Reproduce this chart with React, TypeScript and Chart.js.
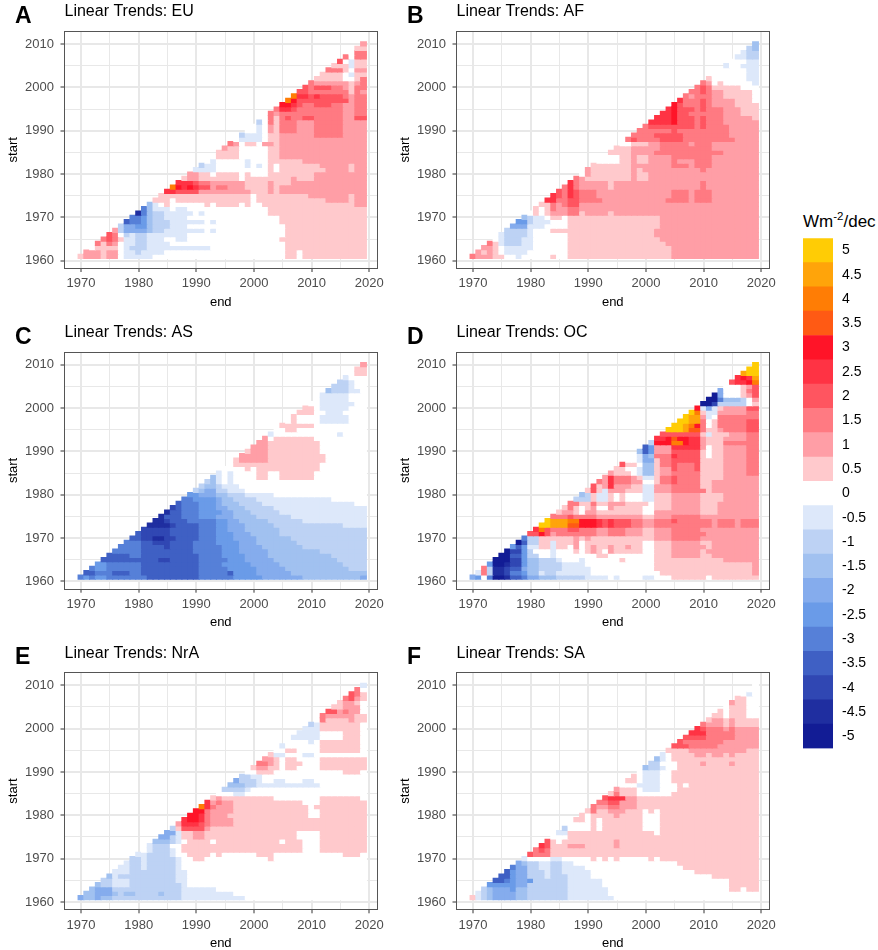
import React, { useEffect, useRef } from "react";
import { Chart, registerables } from "chart.js";

Chart.register(...registerables);

// Each row = one start year (1961..2010). Tokens are "endYear:bin", a run lasting until the next token.
// bin * 0.5 = trend in Wm-2/dec.
const firstStart = 1961;
const lastEnd = 2019;

const rowsEU = [
  "70:1 71:2 74:1 75:2 77:0 78:-1 83:0 06:1 08:0 09:1",
  "71:2 74:1 75:2 77:0 78:-1 80:-2 81:-1 85:0 06:1 08:0 09:1",
  "73:1 77:0 78:-1 79:-2 82:-1 90:-1 93:0 06:1",
  "73:3 74:1 75:3 76:2 77:0 78:-1 80:-2 82:-1 86:0 06:1",
  "74:3 75:4 76:3 77:1 78:-1 80:-2 82:-1 85:0 87:-1 89:0 05:1",
  "75:4 76:3 77:0 78:-2 79:-1 80:-2 82:-1 89:0 06:1",
  "76:2 77:-2 78:-4 82:-3 83:-2 85:-1 92:0 93:-1 94:0 06:1",
  "77:-2 78:-4 80:-5 82:-3 83:-2 86:-1 89:0 06:1",
  "78:-7 79:-6 81:-5 82:-3 83:-2 86:-1 92:0 93:-1 94:0 05:1",
  "79:-6 81:-5 82:-3 83:-2 85:-1 89:0 05:1",
  "80:-9 81:-6 82:-3 83:-2 85:-1 90:0 91:-1 92:0 03:1",
  "81:-6 82:-3 83:-1 86:0 87:-1 89:0 03:1",
  "82:-3 83:-1 84:0 85:1 86:0 92:1 93:0 94:1 98:0 99:1 00:0 02:1 18:2",
  "83:1 86:0 87:1 00:0 01:1 13:2 17:1 18:2",
  "84:1 00:0 01:1 10:2 17:1 18:2",
  "85:5 87:4 91:2 00:1 03:2 04:1 05:2",
  "86:8 87:6 88:5 89:6 90:5 91:4 93:2 94:3 96:2 99:1 03:2 04:1 05:2",
  "87:5 90:4 91:3 93:2 99:1 03:2 04:1 07:2",
  "88:1 89:2 91:1 98:0 99:1 07:2 08:1 11:2",
  "89:2 91:1 93:0 94:1 98:0 99:1 00:0 03:1 11:2",
  "90:-1 94:0 03:1 04:0 05:1 13:2 17:1 18:2",
  "91:-2 92:-1 94:0 99:-1 00:0 01:-1 02:0 03:1 04:0 05:1 12:2 17:1 18:2",
  "92:0 93:-1 94:0 99:-1 00:0 03:1 09:2",
  "93:0 94:1 98:0 03:1 05:2",
  "94:1 98:0 03:1 05:2",
  "95:2 96:1 98:0 03:1 05:2",
  "96:3 97:2 98:0 99:1 01:0 02:2 04:1 05:2",
  "97:0 98:-1 02:0 03:1 05:2",
  "98:-2 99:-1 02:0 03:1 05:2 11:3 16:2",
  "99:0 01:-1 02:0 03:2 04:1 05:3 08:2 11:3 16:2",
  "00:0 01:-1 02:0 03:2 04:1 05:3 08:2 11:3 16:2",
  "01:-2 02:0 03:3 04:1 05:3 08:2 11:3 16:2",
  "02:0 03:3 04:1 05:3 06:4 07:3 09:4 11:3 16:2 18:4",
  "03:3 04:2 05:3 16:2 18:3",
  "04:3 05:5 07:4 08:3 16:2 18:3",
  "05:6 07:5 08:4 09:3 11:4 14:3 16:2 18:3",
  "06:8 07:6 08:4 17:2 18:3",
  "07:8 08:5 10:4 11:5 12:4 16:3 17:2 18:3",
  "08:4 10:3 17:1 18:3 19:2",
  "09:4 10:3 11:4 14:3 16:2 17:1 18:3",
  "10:3 11:2 17:1 18:2 19:3",
  "11:1 16:0 18:1 19:3",
  "12:1 16:0 17:-1 18:1",
  "13:3 16:1 17:0 18:2",
  "14:1 17:-1 18:1",
  "15:4 16:0 17:-1 18:1",
  "16:3 17:0 18:3",
  "17:0 18:3",
  "18:1",
  "19:2",
];

const rowsAF = [
  "70:3 71:2 74:1 76:0 78:-1 79:0 84:1 85:0 87:1 05:2",
  "71:2 72:1 73:2 74:1 75:0 76:-1 80:0 87:1 05:2",
  "72:2 74:1 75:0 76:-1 81:0 87:1 05:2",
  "73:3 74:1 75:-1 76:-2 79:-1 81:0 87:1 04:2",
  "74:0 75:-1 76:-2 79:-1 81:0 87:1 03:2",
  "75:-1 76:-2 80:-1 81:0 87:1 02:2",
  "76:-2 80:-1 81:0 84:1 02:2",
  "77:-4 80:-1 83:0 87:1 03:2",
  "78:-5 80:-2 81:-1 84:0 87:1 03:2",
  "79:-3 80:-2 81:-1 83:0 84:1 86:0 87:1 03:2",
  "80:0 81:1 82:0 83:1 84:2 87:3 89:1 90:2 94:1 95:2",
  "81:1 82:0 83:1 84:3 85:2 87:3 89:2",
  "82:1 84:3 85:2 86:3 87:4 89:2",
  "83:5 85:3 87:4 89:3 93:2 04:3 08:2 09:3 12:2",
  "84:5 85:4 86:3 87:5 88:4 89:3 92:2 05:3 08:2 09:3 12:2",
  "85:4 86:3 87:5 88:4 89:3 92:2 05:3 08:2 09:3 12:2",
  "86:3 87:5 88:3 89:2 94:1 95:2 10:3 11:2",
  "87:5 88:3 89:2 94:1 95:2 10:3 11:2",
  "88:3 89:2 90:1 98:2 99:1 01:2",
  "89:0 90:2 91:1 98:2 99:1 01:2",
  "90:2 91:1 98:2 99:1 00:2 10:3 11:2",
  "91:1 98:2 05:3 08:2 09:3 12:2",
  "92:0 96:1 98:2 99:1 01:2 05:3 06:2 09:3 12:2",
  "93:0 96:1 98:2 99:1 01:2 05:3 12:2",
  "94:1 98:2 02:3 14:2",
  "95:1 98:2 03:3 12:2",
  "96:0 98:1 01:2 03:3 08:2 09:3 12:2",
  "97:3 98:4 99:3 03:4 07:3 16:2",
  "98:3 02:4 07:3 15:2",
  "99:3 05:4 06:3 15:2",
  "00:3 01:4 09:3 10:4 11:3 15:2",
  "01:5 05:6 06:4 09:3 10:4 11:3 14:2",
  "02:5 05:6 06:4 09:3 10:4 11:3 14:2 19:1",
  "03:5 05:6 06:4 08:3 14:2 17:1",
  "04:5 05:6 06:4 09:3 10:4 11:3 14:2 17:1",
  "05:6 06:4 07:3 10:4 11:3 12:2 16:1",
  "06:5 07:3 10:4 11:3 12:2 16:1 19:0",
  "07:3 08:2 09:3 12:2 14:1 19:0",
  "08:3 10:4 11:3 12:2 14:1 19:0",
  "09:3 10:4 11:3 12:1 17:0",
  "10:3 11:2 12:0 13:1 14:0 19:-1",
  "11:1 12:0 18:-1",
  "12:0 18:-1",
  "13:0 18:-1",
  "14:-1 15:0 17:-1",
  "15:0 18:-1",
  "16:-1 18:-2",
  "17:-1 18:-2",
  "18:-2 19:-3",
  "19:-3",
];

const rowsAS = [
  "70:-6 71:-5 72:-6 73:-5 75:-6 82:-7 91:-6 97:-5 02:-4 09:-3 19:-4",
  "71:-7 73:-6 76:-7 79:-6 81:-7 91:-6 96:-7 97:-5 01:-4 07:-3",
  "72:-6 73:-5 75:-6 81:-7 91:-6 96:-5 01:-4 06:-3 17:-2",
  "73:-5 75:-6 81:-7 91:-6 95:-5 00:-4 05:-3 16:-2",
  "74:-7 84:-8 86:-7 91:-6 96:-5 99:-4 04:-3 15:-2",
  "75:-7 79:-6 81:-7 91:-6 95:-5 99:-4 03:-3 14:-2",
  "76:-6 81:-7 90:-6 95:-5 98:-4 03:-3 12:-2",
  "77:-6 81:-7 85:-8 86:-7 90:-6 95:-5 98:-4 02:-3 09:-2",
  "78:-6 81:-7 83:-8 86:-7 90:-6 94:-5 98:-4 01:-3 08:-2",
  "79:-7 81:-8 83:-9 85:-8 87:-7 91:-6 94:-5 97:-4 01:-3 07:-2",
  "80:-7 81:-8 86:-7 91:-6 94:-5 97:-4 00:-3 05:-2",
  "81:-8 82:-8 86:-7 91:-6 94:-5 96:-4 99:-3 05:-2",
  "82:-9 86:-8 87:-7 91:-6 94:-5 96:-4 99:-3 04:-2 16:-1",
  "83:-9 85:-8 86:-7 89:-6 94:-5 96:-4 98:-3 03:-2 09:-1",
  "84:-9 85:-7 88:-6 91:-5 94:-4 97:-3 01:-2 07:-1",
  "85:-9 86:-7 88:-6 91:-5 95:-4 97:-3 00:-2 05:-1",
  "86:-8 87:-7 88:-6 91:-5 94:-4 96:-3 99:-2 04:-1",
  "87:-7 88:-6 91:-5 94:-4 95:-3 98:-2 02:-1 18:0",
  "88:-6 90:-5 94:-4 95:-3 97:-2 01:-1 14:0",
  "89:-5 91:-4 94:-3 96:-2 99:-1 04:0",
  "90:-2 91:-3 92:-4 94:-2 96:-1 99:0",
  "91:-2 92:-3 94:-2 95:-1 98:0",
  "92:-2 93:-3 94:-1 95:0 96:-1 97:0",
  "93:-3 94:-1 95:0 96:-1 97:0 01:1 03:0 05:1 11:0",
  "94:-1 95:0 96:-1 97:0 01:1 03:0 05:1 11:0",
  "95:0 99:1 00:0 01:1 12:0",
  "96:0 97:1 12:0",
  "97:1 98:2 03:1 13:0",
  "98:2 03:1 13:0",
  "99:1 00:2 03:1 12:0",
  "00:2 03:1 12:0",
  "01:2 03:1 12:0",
  "02:2 03:0 04:1 11:0",
  "03:-1 04:0 15:-1 16:0",
  "04:0 06:1 08:0",
  "05:1 11:0",
  "06:0 07:1 08:0 12:-1 17:0",
  "07:1 08:0 12:-1 17:0",
  "08:1 11:0 13:-1 16:0",
  "09:1 11:0 12:-1 17:0",
  "10:0 12:-1 18:0",
  "11:0 12:-1 17:0",
  "12:-1 17:0",
  "13:-3 14:-2 17:-1 19:0",
  "14:-2 17:-1 18:0",
  "15:-2 17:-1 18:0",
  "16:-1 17:0",
  "17:0 18:1",
  "18:1",
  "19:2",
];

const rowsOC = [
  "70:-4 71:-5 72:0 73:-6 74:-10 76:-9 77:-7 79:-6 80:-4 82:-3 85:-2 90:-1 94:0 95:-1 96:0 00:-1 02:0 05:1 11:0 12:1",
  "71:-1 72:3 73:-2 74:-9 76:-8 77:-6 79:-5 80:-3 82:-1 83:-2 85:-1 91:0 03:1 19:2",
  "72:3 73:-2 74:-9 76:-8 77:-7 79:-4 80:-3 82:-2 86:-1 91:0 02:1 19:2",
  "73:-5 74:-10 76:-9 77:-8 79:-5 80:-3 82:-2 86:-1 90:0 02:1 19:2",
  "74:-10 77:-8 79:-5 80:-3 82:-2 85:-1 86:0 89:-1 90:0 96:1 97:0 02:1 14:2",
  "75:-10 77:-7 79:-5 80:-2 82:0 84:-1 85:0 92:1 94:0 02:1 05:2 10:1 12:2",
  "76:-10 77:-8 79:-5 80:-2 81:0 84:-1 85:0 88:1 89:0 90:1 91:2 92:1 93:0 94:2 95:1 00:0 02:1 05:2 10:1 11:2",
  "77:-5 78:-7 79:-5 80:-1 82:1 84:-1 85:1 87:0 88:2 89:0 90:1 91:2 92:1 94:2 95:1 97:2 98:1 00:0 02:1 05:2 11:1 12:2",
  "78:-10 79:-7 80:-2 82:1 84:-1 85:1 88:2 89:0 90:1 00:0 02:1 05:2 10:1 12:2",
  "79:-6 80:-2 82:1 88:2 89:1 90:2 91:1 02:2 05:3 10:2",
  "80:4 82:6 83:4 84:2 85:3 92:2 94:3 97:2 00:1 02:2 05:3 11:2",
  "81:5 82:8 83:4 84:3 87:4 89:3 92:2 94:3 97:2 00:1 02:2 05:3 10:2",
  "82:10 84:9 87:7 89:6 92:5 93:4 94:5 95:4 98:3 00:2 02:3 12:2 13:3 16:2 17:3",
  "83:10 84:9 87:8 89:6 92:5 93:4 94:5 95:4 98:3 00:2 02:3 05:4 06:3 12:2 13:3 16:2 17:3",
  "84:3 87:4 88:3 92:2 00:1 02:2 05:3 10:2",
  "85:1 86:2 88:1 89:0 90:2 92:1 00:0 02:2 10:1 13:2",
  "86:1 87:3 88:1 89:0 90:1 91:2 92:0 94:2 95:1 00:0 02:1 05:2 10:1 13:2",
  "87:3 89:1 91:3 92:1 94:2 97:1 01:0 02:1 05:2 10:1 13:2",
  "88:-2 91:1 92:-1 94:1 95:0 96:1 97:0 00:-1 02:1 05:2 10:1 14:2",
  "89:-3 90:-2 91:1 92:-1 94:1 95:0 96:1 97:0 00:-1 02:1 05:2 10:1 14:2",
  "90:1 91:4 92:1 93:-1 94:2 97:1 00:-1 02:2 05:3 11:1 12:2",
  "91:4 92:1 93:2 94:5 95:2 98:1 00:-1 02:2 05:3 10:1 12:2",
  "92:3 93:2 94:5 95:3 98:2 00:0 02:1 03:3 05:4 06:3 10:1 12:2",
  "93:2 94:5 95:3 98:2 99:1 00:-1 02:1 03:3 05:4 06:3 10:1 14:2",
  "94:2 95:1 98:0 99:-1 00:-3 02:1 03:2 05:3 10:1 14:2 18:3",
  "95:1 97:0 99:-1 00:-3 02:1 03:2 05:4 06:3 09:4 10:1 14:2 18:3",
  "96:4 97:1 99:0 00:-3 02:1 03:3 05:4 06:3 09:4 10:1 14:2 18:3",
  "97:0 99:-1 00:-4 02:1 03:3 05:4 10:1 14:2 18:3",
  "98:0 99:-1 00:-4 01:-3 02:3 05:5 06:4 10:1 11:0 12:1 14:2 18:3",
  "99:-3 00:-7 01:-5 02:2 05:4 10:1 11:0 12:1 14:2 18:3",
  "00:-7 01:-5 02:2 05:5 10:2 11:0 12:1 14:2 18:3",
  "01:-2 02:6 05:8 07:6 08:5 10:2 11:1 14:3",
  "02:5 04:6 05:7 06:6 08:5 10:2 11:1 14:2 18:3",
  "03:4 10:1 11:-1 12:1 15:2 18:3",
  "04:10 07:9 08:7 10:3 11:1 13:2 14:3 18:4",
  "05:10 07:9 08:8 09:6 10:3 11:0 12:1 13:3 18:4",
  "06:10 08:9 10:3 11:0 12:1 13:3 18:4",
  "07:10 08:9 10:2 11:-1 12:0 13:3 18:3",
  "08:10 09:8 10:1 11:-1 13:2 18:3",
  "09:6 10:-1 11:-4 12:-1 13:1 14:2 18:4",
  "10:-10 12:-8 13:-2 18:0 19:1",
  "11:-10 13:-6 14:-3 17:-2 18:0 19:2",
  "12:-10 13:-4 14:0 17:1 18:2 19:4",
  "13:-4 14:0 17:1 18:3 19:4",
  "14:0 17:1 18:2 19:4",
  "15:4 16:5 18:6 19:8",
  "16:5 17:6 18:5 19:9",
  "17:9 18:10",
  "18:10",
  "19:10",
];

const rowsNrA = [
  "70:-4 71:-3 73:-4 74:-3 76:-2 88:-1 99:0",
  "71:-3 73:-4 76:-3 77:-2 78:-3 80:-2 84:-3 85:-2 88:-1 97:0",
  "72:-3 73:-4 76:-2 88:-1 94:0",
  "73:-3 74:-2 76:-1 79:-2 88:-1 89:0",
  "74:-2 76:-1 79:-2 87:-1 89:0",
  "75:-3 76:-1 77:-2 87:-1 89:0",
  "76:-1 79:-2 87:-1 89:0",
  "77:-1 79:-2 81:-1 82:-2 87:-1 88:0",
  "78:-1 79:-2 81:-1 82:-2 87:-1 88:0",
  "79:-2 81:-1 82:-2 87:-1 88:0 90:1 92:0 03:1 04:0",
  "80:-1 82:-2 86:-1 87:0 89:1 93:0 94:1 95:0 01:1 04:0 16:1 19:0",
  "81:0 82:-1 83:-2 86:-1 87:0 88:1 09:0 12:1",
  "82:-1 83:-2 86:0 88:1 09:0 12:1",
  "83:-3 86:-2 87:-1 88:0 89:1 93:0 94:1 05:0 06:1 09:0 12:1",
  "84:-4 86:-2 87:-1 88:1 90:2 92:1 08:0 12:1",
  "85:-4 87:-1 88:1 90:2 92:1 08:0 12:1",
  "86:-2 87:1 88:4 92:2 93:1",
  "87:2 88:5 91:4 92:3 93:2 97:1",
  "88:5 89:6 91:5 92:3 93:2 97:1",
  "89:6 91:5 92:3 93:2 96:1 10:0 12:1",
  "90:6 92:3 93:2 97:1 10:0 12:1",
  "91:8 92:5 93:3 94:2 97:1 10:0 11:1",
  "92:5 93:2 94:3 95:2 97:1 09:0 12:1",
  "93:1 94:2 95:1 04:0 12:1 19:0",
  "94:0 97:-1 99:0",
  "95:-2 99:-1 00:0",
  "96:-3 99:-2 01:-1 12:0",
  "97:-4 98:-2 01:-1 02:0 04:-1 06:0 09:-1 11:0",
  "98:-2 00:-1 02:0",
  "99:0 01:1 04:0 16:1 19:0",
  "00:1 01:2 03:1 05:0 06:1 08:0 12:1",
  "01:3 03:2 04:1 05:0 06:1 09:0 12:1",
  "02:2 04:1 05:0 06:1 08:0 12:1",
  "03:1 04:-1 06:0 09:-1 11:0",
  "04:0 06:1 08:0 12:1 19:0",
  "05:-1 06:0 12:1 19:0",
  "06:0 10:-1 11:0 12:1 19:0",
  "07:-1 12:0 16:1 19:0",
  "08:-1 12:0 16:1 19:0",
  "09:-1 12:1 19:0",
  "10:-2 11:-1 12:1 19:0",
  "11:0 12:3 13:1 17:2 18:1",
  "12:3 13:2 18:1",
  "13:4 15:2 16:3 17:2 19:0",
  "14:1 16:2 19:0",
  "15:1 16:2 18:1 19:0",
  "16:3 17:4 18:2 19:1",
  "17:4 18:3 19:1",
  "18:3 19:0",
  "19:-1",
];

const rowsSA = [
  "70:1 71:-1 72:-2 73:-3 74:-4 78:-3 80:-2 87:-1 95:0",
  "71:-1 72:-2 73:-3 74:-4 78:-3 80:-2 87:-1 94:0",
  "72:-2 73:-3 74:-4 77:-5 78:-3 80:-2 87:-1 94:0 15:1 17:0 18:1",
  "73:-5 78:-4 80:-2 87:-1 93:0 15:1",
  "74:-7 76:-6 77:-5 78:-4 80:-5 81:-2 87:-1 93:0 15:1",
  "75:-7 77:-5 78:-4 80:-2 83:-1 84:-2 87:-1 91:0 12:1",
  "76:-7 77:-5 78:-4 80:-2 83:-1 84:-2 86:-1 91:0 09:1",
  "77:-6 78:-4 80:-2 82:-1 84:-2 86:-1 90:0 07:1",
  "78:-4 79:-3 80:-2 82:-1 84:-2 86:-1 88:0 06:1",
  "79:-1 80:0 84:-1 86:0 91:1 92:0 93:1 94:0 95:1 96:0 01:1 02:0 03:1",
  "80:4 81:3 84:1",
  "81:3 82:4 83:3 84:1",
  "82:5 83:4 84:1 87:2 90:1 95:2 96:1",
  "83:4 84:1 85:0 86:1 95:2 96:1",
  "84:0 87:1",
  "85:-1 87:1 02:0 03:1",
  "86:-2 87:0 91:1 92:0 93:1 00:0 03:1",
  "87:0 91:1 92:0 93:1 00:0 03:1",
  "88:1 90:0 91:1 92:0 93:1 00:0 03:1",
  "89:1 90:0 91:1 95:2 96:1 00:0 03:1",
  "90:1 91:3 92:1 94:2 97:1 00:0 01:1 02:0 03:1",
  "91:3 92:2 94:3 96:2 99:1",
  "92:3 94:4 96:2 99:1",
  "93:4 94:5 97:2 99:1",
  "94:1 95:3 96:1 99:0 05:1",
  "95:2 96:1 99:0 00:-1 03:0 06:1",
  "96:0 99:-1 03:0 06:1 07:0 08:1",
  "97:1 99:0 00:-1 03:0 05:1",
  "98:1 99:0 00:-1 03:0 05:1",
  "99:0 00:-1 03:0 05:1",
  "00:-3 01:-2 03:-1 04:0 06:1",
  "01:-2 03:0 06:1 10:2 11:1 15:2 16:1",
  "02:-3 03:-1 04:0 05:1",
  "03:-1 04:0 05:1 09:2 11:1 12:2 14:1 15:2 16:1",
  "04:1 08:2 18:1",
  "05:4 08:3 13:2",
  "06:4 07:3 14:2",
  "07:4 11:3 16:2",
  "08:5 11:3 16:2",
  "09:5 10:4 11:3 14:2 15:3 16:2",
  "10:3 11:2 14:1 15:2 16:1",
  "11:1 12:2 14:1 15:2 16:1",
  "12:1 14:0 15:1 18:0",
  "13:1 14:0 15:1 18:0",
  "14:0 15:1 18:0",
  "15:2 16:1 18:0",
  "16:1 18:0",
  "17:0 18:-1 19:0",
  "18:0",
  "19:0",
];

const panelLetters = ["A", "B", "C", "D", "E", "F"];
const panelNames = ["EU", "AF", "AS", "OC", "NrA", "SA"];
const panelRows = [rowsEU, rowsAF, rowsAS, rowsOC, rowsNrA, rowsSA];

const legendLabels = ["5", "4.5", "4", "3.5", "3", "2.5", "2", "1.5", "1", "0.5", "0", "-0.5", "-1", "-1.5", "-2", "-2.5", "-3", "-3.5", "-4", "-4.5", "-5"];
const legendColors = [
  "#ffcc05", "#ffa40a", "#ff7d05", "#ff5a14", "#ff1428", "#ff3344", "#ff5560", "#ff7a82", "#ff9ea6", "#ffc9cc",
  "#ffffff",
  "#dde8fa", "#bdd2f4", "#a1c1f0", "#85aced", "#6a9be8", "#5680d8", "#3f60c4", "#3047b3", "#1f2ea0", "#121c95",
];

const FONT = '"Liberation Sans", Arial, sans-serif';

function colorOfBin(bin: number) {
  return legendColors[10 - bin];
}

function parseRows(rows: string[]) {
  const cells: { x: number; y: [number, number]; bin: number }[] = [];
  rows.forEach((row, i) => {
    const start = firstStart + i;
    const tokens = row.split(" ").map((t) => {
      const [yy, b] = t.split(":").map(Number);
      return { end: yy >= 60 ? 1900 + yy : 2000 + yy, bin: b };
    });
    for (let end = start + 9; end <= lastEnd; end++) {
      let bin = 0;
      for (const t of tokens) if (t.end <= end) bin = t.bin;
      cells.push({ x: end, y: [start - 0.53, start + 0.53], bin });
    }
  });
  return cells;
}

const framePlugin = {
  id: "frame",
  afterDraw(chart: any) {
    const { ctx, chartArea: a } = chart;
    ctx.save();
    ctx.strokeStyle = "#555555";
    ctx.lineWidth = 1;
    ctx.strokeRect(Math.floor(a.left) + 0.5, Math.floor(a.top) + 0.5, Math.round(a.right - a.left), Math.round(a.bottom - a.top));
    ctx.restore();
  },
};

const isMajor = (c: any) => c.tick && c.tick.value % 10 === 0;

function noPad(s: any) {
  s.paddingLeft = 0;
  s.paddingRight = 0;
  s.paddingTop = 0;
  s.paddingBottom = 0;
}

function axis(min: number, max: number, title: string, fit: (s: any) => void, titlePad: any, tickPad: number) {
  return {
    type: "linear",
    min,
    max,
    offset: false,
    afterFit: (s: any) => {
      fit(s);
      noPad(s);
    },
    title: { display: true, text: title, color: "#000", font: { family: FONT, size: 13 }, padding: titlePad },
    border: { display: false },
    grid: {
      offset: false,
      color: "#e8e8e8",
      lineWidth: (c: any) => (isMajor(c) ? 2 : 1),
      tickLength: 4,
      tickWidth: (c: any) => (isMajor(c) ? 1 : 0),
      tickColor: (c: any) => (isMajor(c) ? "#333333" : "rgba(0,0,0,0)"),
    },
    ticks: {
      stepSize: 5,
      includeBounds: false,
      autoSkip: false,
      maxRotation: 0,
      color: "#4d4d4d",
      padding: tickPad,
      font: { family: FONT, size: 13 },
      callback: (v: number) => (v % 10 === 0 ? String(v) : ""),
    },
  };
}

function Panel({ index }: { index: number }) {
  const ref = useRef<HTMLCanvasElement>(null);
  const col = index % 2;
  const row = Math.floor(index / 2);
  const rowShift = [0, 0.7, 1.3][row];
  useEffect(() => {
    const cells = parseRows(panelRows[index]);
    const chart = new Chart(ref.current as any, {
      type: "bar",
      data: {
        datasets: [
          {
            data: cells as any,
            backgroundColor: cells.map((c) => colorOfBin(c.bin)),
            borderWidth: 0,
            barThickness: 6.2,
            grouped: false,
          } as any,
        ],
      },
      options: {
        animation: false,
        responsive: false,
        events: [],
        layout: { padding: { left: 0, right: 13, top: rowShift, bottom: 316 - 268 - 44 - rowShift } },
        plugins: {
          legend: { display: false },
          tooltip: { enabled: false },
          title: {
            display: true,
            fullSize: false,
            align: "start",
            text: "Linear Trends: " + panelNames[index],
            color: "#000",
            font: { family: FONT, size: 16, weight: "normal" },
            padding: { top: 2.4, bottom: 9.9 },
          },
        },
        scales: {
          x: axis(1967.14, 2021.34, "end", (s: any) => { s.height = 44; }, { top: 0, bottom: 2 }, 4),
          y: axis(1958.32, 2012.88, "start", (s: any) => { s.width = 64.5; }, { top: 6, bottom: 0 }, 6.5),
        },
      } as any,
      plugins: [framePlugin],
    });
    return () => chart.destroy();
  }, [index]);
  return (
    <canvas
      ref={ref}
      width={390}
      height={316}
      style={{ position: "absolute", left: col * 392, top: row * 320, width: 390, height: 316 }}
    />
  );
}

function LegendBar() {
  const ref = useRef<HTMLCanvasElement>(null);
  useEffect(() => {
    const chart = new Chart(ref.current as any, {
      type: "bar",
      data: {
        labels: legendLabels,
        datasets: [
          {
            data: legendLabels.map(() => 1),
            backgroundColor: legendColors,
            borderWidth: 0,
            categoryPercentage: 1,
            barPercentage: 1,
          },
        ],
      },
      options: {
        indexAxis: "y",
        animation: false,
        responsive: false,
        events: [],
        layout: { padding: { left: 13, right: 0, top: 8.3, bottom: 11.5 } },
        plugins: { legend: { display: false }, tooltip: { enabled: false } },
        scales: {
          x: { display: false, min: 0, max: 1 },
          y: {
            position: "right",
            afterFit: (s: any) => {
              s.width = 45;
              noPad(s);
            },
            grid: { display: false, drawTicks: false },
            border: { display: false },
            ticks: { autoSkip: false, padding: 9, color: "#000", font: { family: FONT, size: 14 } },
          },
        },
      } as any,
    });
    return () => chart.destroy();
  }, []);
  return (
    <canvas
      ref={ref}
      width={88}
      height={530}
      style={{ position: "absolute", left: 790, top: 230, width: 88, height: 530 }}
    />
  );
}

export default function App() {
  return (
    <div style={{ position: "absolute", left: 0, top: 0, width: 878, height: 950, overflow: "hidden", background: "#fff", fontFamily: FONT }}>
      {panelLetters.map((_, i) => (
        <Panel key={i} index={i} />
      ))}
      {panelLetters.map((l, i) => (
        <div
          key={l}
          style={{
            position: "absolute",
            left: 15 + (i % 2) * 392,
            top: 2 + Math.floor(i / 2) * 320.6,
            fontWeight: "bold",
            fontSize: 23,
            lineHeight: "26px",
            color: "#000",
          }}
        >
          {l}
        </div>
      ))}
      <div style={{ position: "absolute", left: 803, top: 212, fontSize: 17, lineHeight: "20px", color: "#000", whiteSpace: "nowrap" }}>
        Wm<sup style={{ fontSize: 11.5, lineHeight: 0 }}>-2</sup>/dec
      </div>
      <LegendBar />
    </div>
  );
}
